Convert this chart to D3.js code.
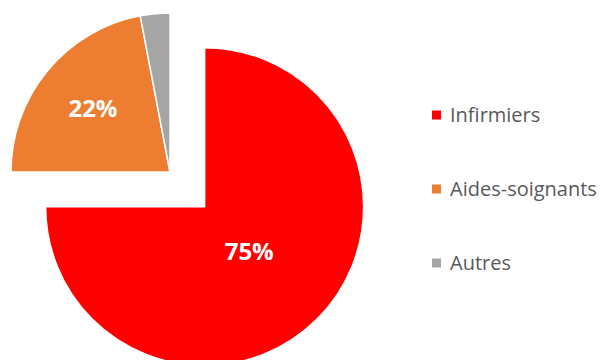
<!DOCTYPE html>
<html>
<head>
<meta charset="utf-8">
<script src="https://cdn.jsdelivr.net/npm/d3@7"></script>
<style>
  html, body { margin: 0; padding: 0; background: #fff; }
  svg { display: block; }
</style>
</head>
<body>
<svg id="chart" width="602" height="360"></svg>
<script>
// Répartition des effectifs par catégorie
const categories = ["Infirmiers", "Aides-soignants", "Autres"];
const values = [75, 22, 3];
const showLabel = [true, true, false];
const colors = ["#ff0000", "#ed7d31", "#a5a5a5"];

const W = 602, H = 360;
const cx = 170, cy = 172, radius = 159;
const explode = [49, 0, 0];        // distance each slice is pulled out
const labelRadius = [63, 100, 0];  // where the percentage text sits

const svg = d3.select("#chart");

const pie = d3.pie().sort(null).value(d => d.value);
const arcs = pie(categories.map((c, i) => ({ name: c, value: values[i], i })));
const arc = d3.arc().innerRadius(0).outerRadius(radius);
const total = d3.sum(values);
const fmt = d3.format(".0%");

const g = svg.append("g").attr("transform", `translate(${cx},${cy})`);

function offset(a, dist) {
  const mid = (a.startAngle + a.endAngle) / 2;
  return [Math.sin(mid) * dist, -Math.cos(mid) * dist];
}

const slices = g.selectAll("g.slice").data(arcs).join("g")
  .attr("class", "slice")
  .attr("transform", d => {
    const [dx, dy] = offset(d, explode[d.data.i]);
    return `translate(${dx},${dy})`;
  });

slices.append("path")
  .attr("d", arc)
  .attr("fill", d => colors[d.data.i])
  .attr("stroke", "#fff")
  .attr("stroke-width", 1.5)
  .attr("stroke-linejoin", "round");

slices.filter(d => showLabel[d.data.i]).append("text")
  .attr("transform", d => {
    const la = d3.arc().innerRadius(labelRadius[d.data.i]).outerRadius(labelRadius[d.data.i]);
    const [x, y] = la.centroid(d);
    return `translate(${x},${y})`;
  })
  .attr("text-anchor", "middle")
  .attr("dy", "0.36em")
  .attr("fill", "#fff")
  .attr("font-family", "'Open Sans', sans-serif")
  .attr("font-weight", "bold")
  .attr("font-size", 24)
  .text(d => fmt(d.data.value / total));

// Legend
const legendY = d3.scalePoint().domain(categories).range([115, 263]);
const legend = svg.append("g").selectAll("g").data(categories).join("g")
  .attr("transform", d => `translate(432,${legendY(d)})`);

legend.append("rect")
  .attr("x", 0).attr("y", -4.5)
  .attr("width", 9).attr("height", 9)
  .attr("fill", (d, i) => colors[i]);

legend.append("text")
  .attr("x", 18)
  .attr("dy", "0.35em")
  .attr("fill", "#595959")
  .attr("font-family", "'Open Sans', sans-serif")
  .attr("font-size", 20)
  .text(d => d);
</script>
</body>
</html>
